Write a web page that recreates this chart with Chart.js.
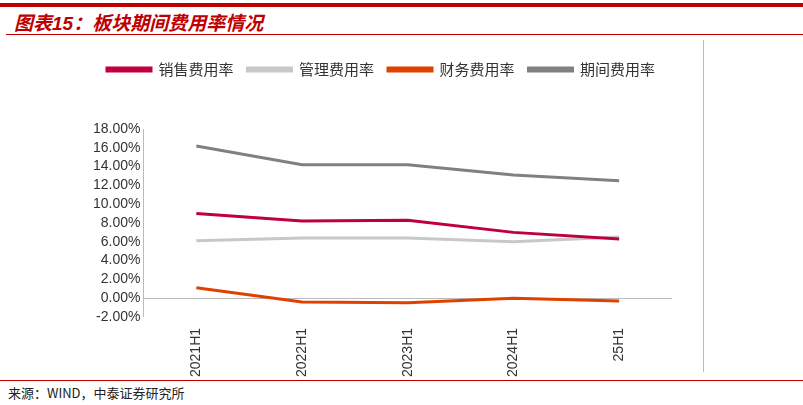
<!DOCTYPE html>
<html><head><meta charset="utf-8">
<script src="https://cdn.jsdelivr.net/npm/chart.js@4"></script>
<style>
body{margin:0;width:803px;height:405px;background:#fff;position:relative;overflow:hidden;font-family:"Noto Sans CJK SC",sans-serif}
#top{position:absolute;left:0;top:3px;width:803px;height:4px;background:#c00000}
#title{position:absolute;left:14px;top:8px;font-size:19px;font-weight:bold;font-style:italic;color:#c00000;font-family:"Liberation Sans","Noto Sans CJK SC"}
#rule{position:absolute;left:6px;top:34px;width:797px;height:1px;background:#c00000}
#vline{position:absolute;left:703px;top:40px;width:1px;height:332px;background:#bbb}
#bot{position:absolute;left:0;top:380px;width:803px;height:1px;background:#c00000}
#src{position:absolute;left:8px;top:383px;font-size:13px;color:#222}
#box{position:absolute;left:90px;top:48px;width:610px;height:332px}
</style></head><body>
<div id="top"></div><div id="title">图表15：板块期间费用率情况</div><div id="rule"></div>
<div id="vline"></div><div id="bot"></div><div id="src">来源：WIND，中泰证券研究所</div>
<div id="box"><canvas id="c"></canvas></div>
<script>
const categories = ['2021H1', '2022H1', '2023H1', '2024H1', '25H1'];
const sales = [9.0, 8.2, 8.3, 7.0, 6.3];
const admin = [6.1, 6.4, 6.4, 6.0, 6.5];
const finance = [1.1, -0.4, -0.5, 0.0, -0.3];
const period = [16.2, 14.2, 14.2, 13.1, 12.5];

function ds(label, data, color) {
  return {label, data, borderColor: color, backgroundColor: color, borderWidth: 3, pointRadius: 0, tension: 0};
}

new Chart(document.getElementById('c'), {
  type: 'line',
  data: {
    labels: categories,
    datasets: [
      ds('销售费用率', sales, '#c0003c'),
      ds('管理费用率', admin, '#c8c8c8'),
      ds('财务费用率', finance, '#e04000'),
      ds('期间费用率', period, '#808080')
    ]
  },
  options: {
    responsive: true, maintainAspectRatio: false, animation: false,
    layout: {padding: {left: 0, right: 28, top: 0}},
    plugins: {
      legend: {
        labels: {boxWidth: 44, boxHeight: 3, color: '#333', font: {size: 15, family: 'Noto Sans CJK SC'}, padding: 14},
        padding: 0
      },
      tooltip: {enabled: false}
    },
    scales: {
      x: {
        offset: true,
        grid: {display: false}, border: {display: false},
        ticks: {maxRotation: 90, minRotation: 90, color: '#333', font: {size: 14, family: 'Liberation Sans'}}
      },
      y: {
        min: -2, max: 18,
        ticks: {stepSize: 2, autoSkip: false, color: '#333', font: {size: 14, family: 'Liberation Sans'}, callback: v => v.toFixed(2) + '%'},
        grid: {drawTicks: false, color: c => c.tick.value === 0 ? '#bbb' : 'rgba(0,0,0,0)'},
        border: {color: '#bbb'}
      }
    }
  },
  plugins: [{id: 'legendGap', beforeInit(chart) {
    const fit = chart.legend.fit;
    chart.legend.fit = function () { fit.bind(chart.legend)(); this.height += 42; };
  }}]
});
</script>
</body></html>
